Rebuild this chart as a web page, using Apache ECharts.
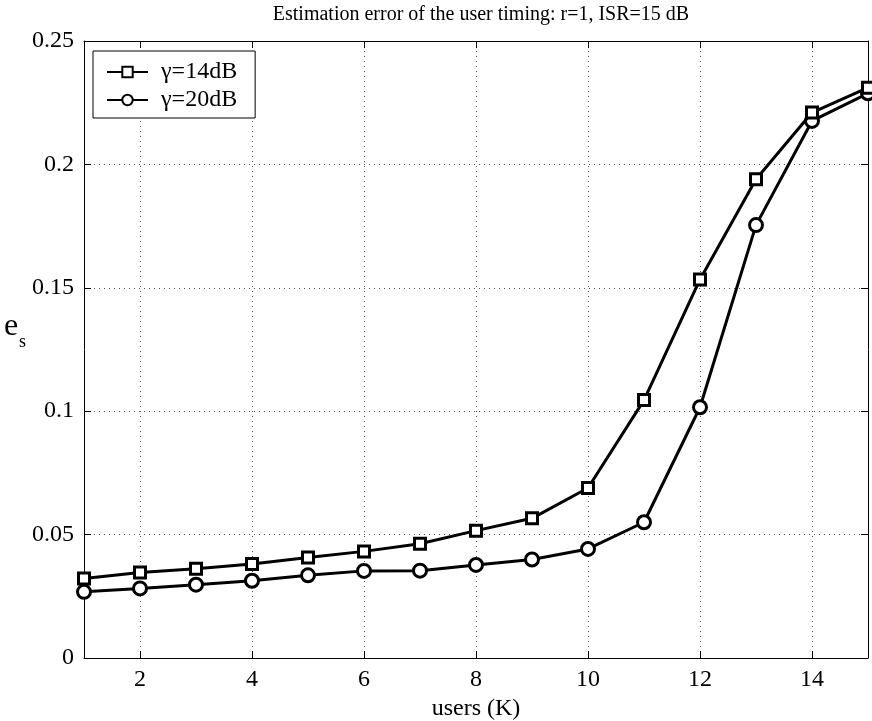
<!DOCTYPE html>
<html>
<head>
<meta charset="utf-8">
<script src="https://cdn.jsdelivr.net/npm/echarts@6/dist/echarts.min.js"></script>
<style>html,body{margin:0;padding:0;background:#fff;}#c{width:872px;height:721px;}</style>
</head>
<body>
<div id="c"></div>
<script>
var users = [1,2,3,4,5,6,7,8,9,10,11,12,13,14,15];
var g14 = [0.0322,0.0346,0.0362,0.0381,0.0407,0.0432,0.0463,0.0516,0.0566,0.0689,0.1045,0.1534,0.1940,0.2210,0.2311];
var g20 = [0.0268,0.0282,0.0297,0.0313,0.0335,0.0353,0.0354,0.0377,0.0399,0.0442,0.0550,0.1016,0.1754,0.2176,0.2288];
var xTicks = [2,4,6,8,10,12,14];
var yTicks = [0,0.05,0.1,0.15,0.2,0.25];
var seriesNames = ['\u03b3=14dB','\u03b3=20dB'];
var titleText = 'Estimation error of the user timing: r=1, ISR=15 dB';

var FONT = 'Liberation Serif';
var chart = echarts.init(document.getElementById('c'), null, {renderer:'canvas'});
function pairs(xs, ys){ return xs.map(function(x,i){return [x, ys[i]];}); }
var gridLine = {show:true, lineStyle:{color:'#555', type:[1,4], width:1}};
var option = {
  backgroundColor:'#fff',
  animation:false,
  title:{text:titleText, left:476, textAlign:'center', top:0, textStyle:{fontFamily:FONT, fontSize:20, fontWeight:'normal', color:'#000'}},
  grid:{left:84, right:4, top:41, bottom:63, containLabel:false, outerBoundsMode:'none'},
  legend:{
    orient:'vertical', left:93, top:51, data:seriesNames,
    backgroundColor:'#fff', borderColor:'#000', borderWidth:1, borderRadius:0,
    padding:[9,18,6,13], itemGap:4, itemWidth:41, itemHeight:13,
    textStyle:{fontFamily:FONT, fontSize:24, color:'#000', padding:[0,0,0,8]}
  },
  xAxis:[{
    type:'value', min:1, max:15, position:'bottom',
    name:'users (K)', nameLocation:'middle', nameGap:34,
    nameTextStyle:{fontFamily:FONT, fontSize:24, color:'#000'},
    axisLine:{show:true, onZero:false, lineStyle:{color:'#000', width:1}},
    axisTick:{show:true, inside:true, length:7, customValues:xTicks, lineStyle:{color:'#000'}},
    axisLabel:{show:true, customValues:xTicks, margin:10, fontFamily:FONT, fontSize:24, color:'#000'},
    splitLine:gridLine
  },{
    type:'value', min:1, max:15, position:'top',
    axisLine:{show:true, onZero:false, lineStyle:{color:'#000', width:1}},
    axisTick:{show:true, inside:true, length:7, customValues:xTicks, lineStyle:{color:'#000'}},
    axisLabel:{show:false}, splitLine:{show:false}
  }],
  yAxis:[{
    type:'value', min:0, max:0.25, interval:0.05, position:'left',
    name:'{e|e}{s|s}', nameLocation:'middle', nameGap:51, nameRotate:0,
    nameTextStyle:{fontFamily:FONT, fontSize:32, color:'#000', padding:[0,0,36,0],
      rich:{e:{fontFamily:FONT, fontSize:32, color:'#000', padding:[0,0,10,0]}, s:{fontFamily:FONT, fontSize:18, color:'#000', padding:[22,0,0,1]}}},
    axisLine:{show:true, onZero:false, lineStyle:{color:'#000', width:1}},
    axisTick:{show:true, inside:true, length:7, lineStyle:{color:'#000'}},
    axisLabel:{show:true, margin:10, fontFamily:FONT, fontSize:24, color:'#000', formatter:function(v){return String(+v.toFixed(2));}},
    splitLine:gridLine
  },{
    type:'value', min:0, max:0.25, interval:0.05, position:'right',
    axisLine:{show:true, onZero:false, lineStyle:{color:'#000', width:1}},
    axisTick:{show:true, inside:true, length:7, lineStyle:{color:'#000'}},
    axisLabel:{show:false}, splitLine:{show:false}
  }],
  series:[{
    name:seriesNames[0], type:'line', xAxisIndex:0, yAxisIndex:0,
    data:pairs(users, g14), symbol:'rect', symbolSize:11,
    lineStyle:{color:'#000', width:3},
    itemStyle:{color:'#fff', borderColor:'#000', borderWidth:3},
    z:3
  },{
    name:seriesNames[1], type:'line', xAxisIndex:0, yAxisIndex:0,
    data:pairs(users, g20), symbol:'circle', symbolSize:13,
    lineStyle:{color:'#000', width:3},
    itemStyle:{color:'#fff', borderColor:'#000', borderWidth:3},
    z:2
  }]
};
chart.setOption(option);
</script>
</body>
</html>
